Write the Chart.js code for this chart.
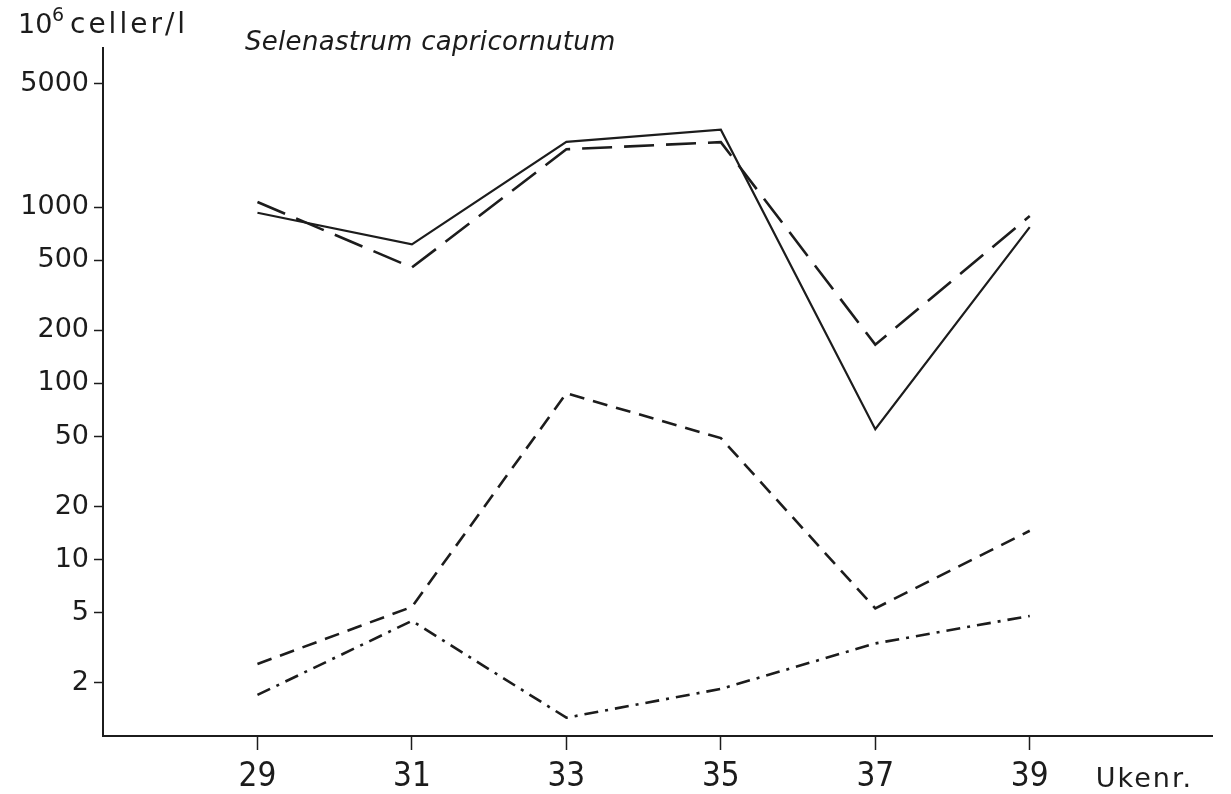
<!DOCTYPE html>
<html>
<head>
<meta charset="utf-8">
<title>Selenastrum capricornutum</title>
<script src="https://cdn.jsdelivr.net/npm/chart.js@4/dist/chart.umd.min.js"></script>
<style>
  html, body { margin: 0; padding: 0; background: #fff; }
  canvas { display: block; }
</style>
</head>
<body>
<canvas id="chart" width="1231" height="794"></canvas>
<script>
// week numbers (Ukenr.) and cell counts, 10^6 celler/l
const weeks = [29, 31, 33, 35, 37, 39];
const solidSeries = [930, 615, 2350, 2750, 55, 770];
const longDashSeries = [1070, 455, 2130, 2340, 166, 890];
const dashSeries = [2.56, 5.4, 88, 49, 5.3, 14.6];
const dashDotSeries = [1.71, 4.5, 1.27, 1.85, 3.35, 4.8];

const yTickValues = [2, 5, 10, 20, 50, 100, 200, 500, 1000, 5000];
const xTickValues = [29, 31, 33, 35, 37, 39];

const ink = '#1c1c1c';

function points(values) {
  return weeks.map((w, i) => ({ x: w, y: values[i] }));
}

function lineSet(values, dash, width) {
  return {
    data: points(values),
    borderColor: ink,
    borderWidth: width,
    borderDash: dash,
    pointRadius: 0,
    tension: 0,
    fill: false
  };
}

// free text: unit label, species name, x axis name
const labels = {
  id: 'labels',
  afterDraw(chart) {
    const ctx = chart.ctx;
    const x = chart.scales.x;
    ctx.save();
    ctx.fillStyle = ink;
    ctx.textBaseline = 'alphabetic';
    ctx.textAlign = 'left';

    ctx.font = '27px "DejaVu Sans"';
    ctx.fillText('10', 18, 33);
    ctx.font = '19px "DejaVu Sans"';
    ctx.fillText('6', 52, 21);
    ctx.font = '28px "DejaVu Sans"';
    ctx.letterSpacing = '3px';
    ctx.fillText('celler/l', 70, 33);

    ctx.font = 'italic 26px "DejaVu Sans"';
    ctx.letterSpacing = '0.3px';
    ctx.fillText('Selenastrum capricornutum', 245, 50);

    ctx.font = '27px "DejaVu Sans"';
    ctx.letterSpacing = '2px';
    ctx.fillText('Ukenr.', x.getPixelForValue(39) + 66, 787);
    ctx.restore();
  }
};

new Chart(document.getElementById('chart'), {
  type: 'line',
  data: {
    datasets: [
      lineSet(solidSeries, [], 2.2),
      lineSet(longDashSeries, [30, 12], 2.6),
      lineSet(dashSeries, [15, 9], 2.6),
      lineSet(dashDotSeries, [14, 7, 3, 7], 2.6)
    ]
  },
  options: {
    responsive: false,
    animation: false,
    layout: { padding: { top: 48, right: 19, left: 0, bottom: 0 } },
    plugins: {
      legend: { display: false },
      tooltip: { enabled: false },
      title: { display: false }
    },
    scales: {
      x: {
        type: 'linear',
        min: 27,
        max: 41.36,
        afterBuildTicks: (scale) => {
          scale.ticks = xTickValues.map(v => ({ value: v }));
        },
        afterFit: (scale) => {
          scale.height = 58;
          scale.paddingLeft = 0;
          scale.paddingRight = 0;
        },
        grid: {
          drawOnChartArea: false,
          drawTicks: true,
          tickLength: 14,
          tickWidth: 1.5,
          tickColor: ink
        },
        border: { display: true, color: ink, width: 2 },
        ticks: {
          color: ink,
          padding: 8,
          maxRotation: 0,
          autoSkip: false,
          font: { family: '"Liberation Sans Narrow", "DejaVu Sans Condensed", sans-serif', size: 33 },
          callback: (v) => String(v)
        }
      },
      y: {
        type: 'logarithmic',
        min: 1,
        max: 8000,
        afterBuildTicks: (scale) => {
          scale.ticks = yTickValues.map(v => ({ value: v }));
        },
        afterFit: (scale) => {
          scale.width = 103;
          scale.paddingTop = 0;
          scale.paddingBottom = 0;
        },
        grid: {
          drawOnChartArea: false,
          drawTicks: true,
          tickLength: 9,
          tickWidth: 1.5,
          tickColor: ink
        },
        border: { display: true, color: ink, width: 2 },
        ticks: {
          color: ink,
          padding: 5,
          autoSkip: false,
          font: { family: '"DejaVu Sans", sans-serif', size: 27 },
          callback: (v) => String(v)
        }
      }
    }
  },
  plugins: [labels]
});
</script>
</body>
</html>
